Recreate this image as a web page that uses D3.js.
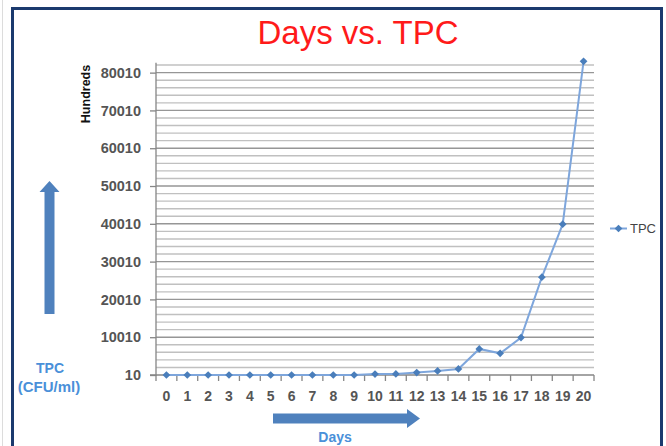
<!DOCTYPE html>
<html>
<head>
<meta charset="utf-8">
<script src="https://cdn.jsdelivr.net/npm/d3@7"></script>
<style>
  html, body { margin: 0; padding: 0; background: #fff; }
  svg { display: block; }
</style>
</head>
<body>
<svg id="chart" width="666" height="446"></svg>
<script>
// ---- data ----
const days = [0,1,2,3,4,5,6,7,8,9,10,11,12,13,14,15,16,17,18,19,20];
const tpc  = [10,10,10,10,10,10,10,10,10,10,270,300,650,1100,1600,6900,5750,9900,25900,39900,83000];
const yTickValues = [10,10010,20010,30010,40010,50010,60010,70010,80010];
const seriesName = "TPC";
const titleText = "Days vs. TPC";

const svg = d3.select("#chart");

// outer faint line and frame
svg.append("line").attr("x1",2.5).attr("x2",2.5).attr("y1",0).attr("y2",446)
  .attr("stroke","#dcdcdc").attr("stroke-width",1);
svg.append("rect").attr("x",12.5).attr("y",8.5).attr("width",649).attr("height",460)
  .attr("fill","#fff").attr("stroke","#1B3A6E").attr("stroke-width",3);

// scales
const plot = {left:156, right:594, top:62.8, bottom:375};
const x = d3.scaleBand().domain(days).range([plot.left, plot.right]).padding(0);
const y = d3.scaleLinear().domain([10, 82610]).range([plot.bottom, plot.top]);

// gridlines (minor every 2000, major every 10000)
const gridVals = d3.range(2010, 82011, 2000);
svg.append("g").selectAll("line").data(gridVals).join("line")
  .attr("x1", plot.left).attr("x2", plot.right)
  .attr("y1", d => y(d)).attr("y2", d => y(d))
  .attr("stroke", d => ((d - 10) % 10000 === 0) ? "#969696" : "#c0c0c0")
  .attr("stroke-width", 1.4);

// y axis
const yAxis = d3.axisLeft(y).tickValues(yTickValues).tickSize(6).tickPadding(9)
  .tickFormat(d3.format("d"));
const gy = svg.append("g").attr("transform", `translate(${plot.left},0)`).call(yAxis);
gy.select(".domain").attr("stroke","#868686").attr("stroke-width",1.3)
  .attr("d", `M-6,${plot.bottom}H0V${plot.top}`);
gy.selectAll(".tick line").attr("stroke","#868686").attr("stroke-width",1.3);
gy.selectAll(".tick text").attr("font-family","'Liberation Sans', Arial, sans-serif")
  .attr("font-size","14.5px").attr("font-weight","bold").attr("fill","#555");

// x axis
const gx = svg.append("g").attr("transform", `translate(0,${plot.bottom})`)
  .call(d3.axisBottom(x).tickSize(0).tickPadding(16));
gx.select(".domain").attr("stroke","#868686").attr("stroke-width",1.3)
  .attr("d", `M${plot.left},0H${plot.right}`);
gx.selectAll(".tick text").attr("font-family","'Liberation Sans', Arial, sans-serif")
  .attr("font-size","14px").attr("font-weight","bold").attr("fill","#555");
// category boundary tick marks
const bounds = days.map(d => x(d)).concat([plot.right]);
gx.append("g").selectAll("line").data(bounds).join("line")
  .attr("x1", d => d).attr("x2", d => d).attr("y1", 0).attr("y2", 6)
  .attr("stroke","#868686").attr("stroke-width",1.3);

// line
const cx = d => x(d) + x.bandwidth()/2;
const pts = days.map((d,i) => [cx(d), y(tpc[i])]);
svg.append("path").datum(pts)
  .attr("d", d3.line())
  .attr("fill","none").attr("stroke","#7EA6DC").attr("stroke-width",2);
const diamond = d3.symbol().type(d3.symbolSquare).size(30);
svg.append("g").selectAll("path").data(pts).join("path")
  .attr("transform", d => `translate(${d[0]},${d[1]}) rotate(45)`)
  .attr("d", diamond).attr("fill","#4A7EBB");

// title
svg.append("text").attr("x",358).attr("y",44).attr("text-anchor","middle")
  .attr("font-family","'Liberation Sans', Arial, sans-serif").attr("font-size","33px")
  .attr("fill","#FF1A1A").text(titleText);

// Hundreds label
svg.append("text").attr("transform","translate(90,94) rotate(-90)")
  .attr("text-anchor","middle").attr("font-family","'Liberation Sans Narrow','Liberation Sans', Arial, sans-serif")
  .attr("font-size","12.5px").attr("font-weight","bold").attr("fill","#111")
  .text("Hundreds");

// legend
const lg = svg.append("g").attr("transform","translate(610,228.5)");
lg.append("line").attr("x1",0).attr("x2",17).attr("y1",0).attr("y2",0)
  .attr("stroke","#7EA6DC").attr("stroke-width",2);
lg.append("path").attr("transform","translate(8.5,0) rotate(45)").attr("d",diamond).attr("fill","#4A7EBB");
lg.append("text").attr("x",20).attr("y",4.5)
  .attr("font-family","'Liberation Sans', Arial, sans-serif").attr("font-size","13px")
  .attr("fill","#444").text(seriesName);

// up arrow
const blue = "#4F81BD";
svg.append("path").attr("fill",blue)
  .attr("d","M44.5,314 L44.5,192 L39.5,192 L49.5,181 L59.5,192 L54.5,192 L54.5,314 Z");
// right arrow
svg.append("path").attr("fill",blue)
  .attr("d","M273,413.5 L407,413.5 L407,409 L420,418.5 L407,428 L407,423.5 L273,423.5 Z");

// axis labels (blue)
const lblFont = "'Liberation Sans', Arial, sans-serif";
svg.append("text").attr("x",50).attr("y",373).attr("text-anchor","middle")
  .attr("font-family",lblFont).attr("font-size","14px").attr("font-weight","bold")
  .attr("fill","#4A90D9").text("TPC");
svg.append("text").attr("x",49).attr("y",392).attr("text-anchor","middle")
  .attr("font-family",lblFont).attr("font-size","15px").attr("font-weight","bold")
  .attr("fill","#4A90D9").text("(CFU/ml)");
svg.append("text").attr("x",335).attr("y",442).attr("text-anchor","middle")
  .attr("font-family",lblFont).attr("font-size","14px").attr("font-weight","bold")
  .attr("fill","#4A90D9").text("Days");
</script>
</body>
</html>
